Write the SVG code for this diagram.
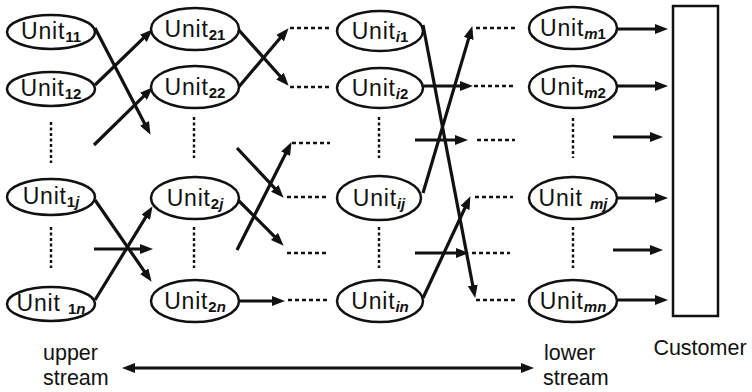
<svg xmlns="http://www.w3.org/2000/svg" width="752" height="392" viewBox="0 0 752 392">
  <style>
    .unit ellipse { fill: #fff; stroke: #111; stroke-width: 2.5; }
    .unit text { font-family: "Liberation Sans", Arial, sans-serif; font-size: 23px; fill: #111; text-anchor: middle; letter-spacing: 0.8px; }
    .sub { font-size: 15px; font-weight: bold; letter-spacing: 0; }
    .it { font-style: italic; }
    .label { font-family: "Liberation Sans", Arial, sans-serif; font-size: 21.5px; fill: #111; }
    .arrow { stroke: #111; stroke-width: 3.2; fill: none; marker-end: url(#head); }
    .dash-h { stroke: #111; stroke-width: 2.6; stroke-dasharray: 4 3; fill: none; }
    .dash-v { stroke: #111; stroke-width: 2.4; stroke-dasharray: 3 2.5; fill: none; }
  </style>
  <defs>
    <marker id="head" viewBox="0 0 13 10" markerWidth="13" markerHeight="10" refX="3" refY="5" orient="auto" markerUnits="userSpaceOnUse">
      <path d="M0,0 L13,5 L0,10 z" fill="#111"/>
    </marker>
    <marker id="head2" viewBox="0 0 13 10" markerWidth="13" markerHeight="10" refX="3" refY="5" orient="auto-start-reverse" markerUnits="userSpaceOnUse">
      <path d="M0,0 L13,5 L0,10 z" fill="#111"/>
    </marker>
  </defs>

  <rect width="752" height="392" fill="#fff"/>

  <!-- connectors -->
  <g id="connectors">
    <!-- stage 1 to stage 2 -->
    <line class="arrow" x1="95" y1="28" x2="145.9" y2="126"/>
    <line class="arrow" x1="95" y1="85" x2="145.5" y2="36.2"/>
    <line class="arrow" x1="94" y1="145" x2="145.6" y2="94.3"/>
    <line class="arrow" x1="95" y1="200" x2="145.9" y2="273.6"/>
    <line class="arrow" x1="94" y1="249" x2="143" y2="249"/>
    <line class="arrow" x1="95" y1="300" x2="147.3" y2="214.7"/>

    <!-- stage 2 onwards -->
    <line class="arrow" x1="237" y1="28" x2="282" y2="78.3"/>
    <line class="arrow" x1="237" y1="89" x2="282.1" y2="35.8"/>
    <line class="arrow" x1="237" y1="148" x2="276.8" y2="190.4"/>
    <line class="arrow" x1="237" y1="250" x2="287" y2="151"/>
    <line class="arrow" x1="238" y1="200" x2="276.6" y2="238.6"/>
    <line class="arrow" x1="239" y1="301" x2="275" y2="301"/>

    <!-- stage i onwards -->
    <line class="arrow" x1="423" y1="25" x2="473.3" y2="288.2"/>
    <line class="arrow" x1="423" y1="193" x2="469.5" y2="35.6"/>
    <line class="arrow" x1="424" y1="86" x2="463" y2="86"/>
    <line class="arrow" x1="415" y1="140" x2="458" y2="140"/>
    <line class="arrow" x1="415" y1="253" x2="459" y2="253"/>
    <line class="arrow" x1="423" y1="298" x2="466.2" y2="205.2"/>

    <!-- stage m to customer -->
    <line class="arrow" x1="617" y1="29" x2="658" y2="29"/>
    <line class="arrow" x1="617" y1="86" x2="658" y2="86"/>
    <line class="arrow" x1="613" y1="137" x2="653" y2="137"/>
    <line class="arrow" x1="617" y1="198" x2="658" y2="198"/>
    <line class="arrow" x1="613" y1="250" x2="653" y2="250"/>
    <line class="arrow" x1="617" y1="300" x2="658" y2="300"/>

    <!-- elided stages -->
    <line class="dash-h" x1="290" y1="28" x2="330" y2="28"/>
    <line class="dash-h" x1="290" y1="87" x2="330" y2="87"/>
    <line class="dash-h" x1="292" y1="143" x2="330" y2="143"/>
    <line class="dash-h" x1="287" y1="197" x2="327" y2="197"/>
    <line class="dash-h" x1="287" y1="253" x2="327" y2="253"/>
    <line class="dash-h" x1="288" y1="300" x2="328" y2="300"/>

    <line class="dash-h" x1="476" y1="28" x2="515" y2="28"/>
    <line class="dash-h" x1="474" y1="86" x2="515" y2="86"/>
    <line class="dash-h" x1="477" y1="140" x2="515" y2="140"/>
    <line class="dash-h" x1="475" y1="197" x2="513" y2="197"/>
    <line class="dash-h" x1="472" y1="253" x2="510" y2="253"/>
    <line class="dash-h" x1="476" y1="300" x2="515" y2="300"/>

    <!-- elided units within a stage -->
    <line class="dash-v" x1="51" y1="122" x2="51" y2="163"/>
    <line class="dash-v" x1="51" y1="227" x2="51" y2="268"/>
    <line class="dash-v" x1="194" y1="117" x2="194" y2="158"/>
    <line class="dash-v" x1="194" y1="227" x2="194" y2="268"/>
    <line class="dash-v" x1="379" y1="117" x2="379" y2="158"/>
    <line class="dash-v" x1="379" y1="227" x2="379" y2="268"/>
    <line class="dash-v" x1="573" y1="118" x2="573" y2="158"/>
    <line class="dash-v" x1="573" y1="227" x2="573" y2="268"/>

    <!-- stream direction -->
    <line x1="132" y1="368" x2="524" y2="368" stroke="#111" stroke-width="3" marker-start="url(#head2)" marker-end="url(#head2)"/>
  </g>

  <!-- stage 1 -->
  <g id="unit-1-1" class="unit"><ellipse cx="51" cy="32" rx="44" ry="17"/><text x="51" y="39">Unit<tspan class="sub" dy="3">11</tspan></text></g>
  <g id="unit-1-2" class="unit"><ellipse cx="51" cy="89" rx="44" ry="17"/><text x="51" y="96">Unit<tspan class="sub" dy="3">12</tspan></text></g>
  <g id="unit-1-j" class="unit"><ellipse cx="51" cy="197" rx="44" ry="18"/><text x="51" y="204">Unit<tspan class="sub" dy="3">1<tspan class="it">j</tspan></tspan></text></g>
  <g id="unit-1-n" class="unit"><ellipse cx="51" cy="304" rx="44" ry="17"/><text x="51" y="311">Unit <tspan class="sub" dy="3">1<tspan class="it">n</tspan></tspan></text></g>

  <!-- stage 2 -->
  <g id="unit-2-1" class="unit"><ellipse cx="195" cy="29" rx="44" ry="21"/><text x="195" y="37">Unit<tspan class="sub" dy="3">21</tspan></text></g>
  <g id="unit-2-2" class="unit"><ellipse cx="195" cy="87" rx="44" ry="21"/><text x="195" y="95">Unit<tspan class="sub" dy="3">22</tspan></text></g>
  <g id="unit-2-j" class="unit"><ellipse cx="195" cy="198" rx="44" ry="21"/><text x="195" y="206">Unit<tspan class="sub" dy="3">2<tspan class="it">j</tspan></tspan></text></g>
  <g id="unit-2-n" class="unit"><ellipse cx="195" cy="301" rx="44" ry="21"/><text x="195" y="309">Unit<tspan class="sub" dy="3">2<tspan class="it">n</tspan></tspan></text></g>

  <!-- stage i -->
  <g id="unit-i-1" class="unit"><ellipse cx="380" cy="31" rx="43" ry="20"/><text x="380" y="39">Unit<tspan class="sub" dy="3"><tspan class="it">i</tspan>1</tspan></text></g>
  <g id="unit-i-2" class="unit"><ellipse cx="380" cy="88" rx="43" ry="20"/><text x="380" y="96">Unit<tspan class="sub" dy="3"><tspan class="it">i</tspan>2</tspan></text></g>
  <g id="unit-i-j" class="unit"><ellipse cx="379" cy="198" rx="42" ry="22"/><text x="379" y="206">Unit<tspan class="sub it" dy="3">ij</tspan></text></g>
  <g id="unit-i-n" class="unit"><ellipse cx="380" cy="301" rx="43" ry="21"/><text x="380" y="309">Unit<tspan class="sub it" dy="3">in</tspan></text></g>

  <!-- stage m -->
  <g id="unit-m-1" class="unit"><ellipse cx="573" cy="28" rx="44" ry="21"/><text x="573" y="36">Unit<tspan class="sub" dy="3"><tspan class="it">m</tspan>1</tspan></text></g>
  <g id="unit-m-2" class="unit"><ellipse cx="573" cy="87" rx="44" ry="21"/><text x="573" y="95">Unit<tspan class="sub" dy="3"><tspan class="it">m</tspan>2</tspan></text></g>
  <g id="unit-m-j" class="unit"><ellipse cx="573" cy="198" rx="44" ry="21"/><text x="573" y="206">Unit <tspan class="sub it" dy="3">mj</tspan></text></g>
  <g id="unit-m-n" class="unit"><ellipse cx="573" cy="301" rx="44" ry="21"/><text x="573" y="309">Unit<tspan class="sub it" dy="3">mn</tspan></text></g>

  <!-- customer -->
  <g id="customer">
    <rect x="673" y="6" width="45" height="310" fill="#fff" stroke="#111" stroke-width="2.5"/>
    <text class="label" x="700" y="355" text-anchor="middle">Customer</text>
  </g>

  <!-- stream labels -->
  <g id="upper-stream"><text class="label" x="43" y="360">upper</text><text class="label" x="43" y="385">stream</text></g>
  <g id="lower-stream"><text class="label" x="544" y="360">lower</text><text class="label" x="543" y="385">stream</text></g>
</svg>
